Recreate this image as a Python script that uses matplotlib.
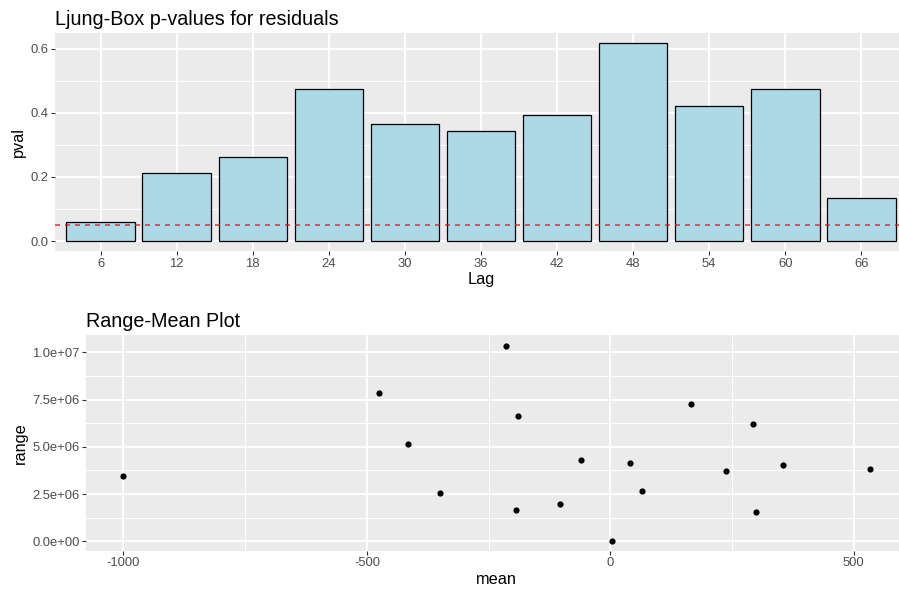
import numpy as np
import matplotlib
matplotlib.use('Agg')
import matplotlib.pyplot as plt

# Ljung-Box p-values
lags = [6, 12, 18, 24, 30, 36, 42, 48, 54, 60, 66]
pvals = [0.060, 0.211, 0.262, 0.474, 0.365, 0.344, 0.393, 0.618, 0.421, 0.474, 0.134]
pval_ticks = [0.0, 0.2, 0.4, 0.6]
pval_ticklabels = ['0.0', '0.2', '0.4', '0.6']
cutoff = 0.05

# Range-mean points
means = [-1000, -476, -415, -349, -214, -189, -194, -103, -60, 4,
         40, 65, 165, 238, 294, 299, 355, 534]
ranges = [3.46e6, 7.83e6, 5.15e6, 2.54e6, 1.033e7, 6.61e6, 1.66e6, 1.96e6, 4.29e6, 0.0,
          4.16e6, 2.66e6, 7.25e6, 3.70e6, 6.19e6, 1.55e6, 4.05e6, 3.81e6]
mean_ticks = [-1000, -500, 0, 500]
range_ticks = [0, 2.5e6, 5.0e6, 7.5e6, 1.0e7]
range_ticklabels = ['0.0e+00', '2.5e+06', '5.0e+06', '7.5e+06', '1.0e+07']

plt.rcParams['font.family'] = ['Liberation Sans', 'DejaVu Sans']

W, H = 899, 594
fig = plt.figure(figsize=(W / 100, H / 100), dpi=100)


def gg_style(ax, xminor, yminor):
    ax.set_facecolor('#EBEBEB')
    for s in ax.spines.values():
        s.set_visible(False)
    ax.set_axisbelow(True)
    ax.grid(True, which='major', color='white', linewidth=1.35)
    if xminor is not None:
        ax.set_xticks(xminor, minor=True)
    if yminor is not None:
        ax.set_yticks(yminor, minor=True)
    ax.grid(True, which='minor', color='white', linewidth=0.7)
    ax.tick_params(which='minor', length=0)
    ax.tick_params(which='major', length=2.7, width=0.8, color='#333333',
                   labelcolor='#4D4D4D', labelsize=9.4, pad=2)


# top panel
ax1 = fig.add_axes([55 / W, 1 - 251 / H, 852 / W, 218 / H])
gg_style(ax1, None, [0.1, 0.3, 0.5])
ax1.bar(lags, pvals, width=5.4, color='#ADD8E6', edgecolor='black', linewidth=0.9, zorder=2)
ax1.axhline(cutoff, color='red', alpha=0.75, linewidth=1.2, linestyle=(0, (3, 3)), zorder=3)
ax1.set_xlim(lags[0] - 3.6, lags[-1] + 3.6)
ax1.set_ylim(-0.031, 0.649)
ax1.set_xticks(lags)
ax1.set_yticks(pval_ticks)
ax1.set_yticklabels(pval_ticklabels)
ax1.set_xlabel('Lag', fontsize=11.7, labelpad=2)
ax1.set_ylabel('pval', fontsize=11.7, labelpad=3)
ax1.set_title('Ljung-Box p-values for residuals', loc='left', fontsize=14.2, pad=6)

# bottom panel
ax2 = fig.add_axes([86 / W, 1 - 550.7 / H, 821.7 / W, 215.7 / H])
gg_style(ax2, [-750, -250, 250], [1.25e6, 3.75e6, 6.25e6, 8.75e6])
ax2.scatter(means, ranges, s=20, color='black', zorder=3, linewidths=0)
ax2.set_xlim(-1077, 611)
ax2.set_ylim(-0.05e7, 1.0915e7)
ax2.set_xticks(mean_ticks)
ax2.set_xticklabels([str(t) for t in mean_ticks])
ax2.set_yticks(range_ticks)
ax2.set_yticklabels(range_ticklabels)
ax2.set_xlabel('mean', fontsize=11.7, labelpad=2)
ax2.set_ylabel('range', fontsize=11.7, labelpad=3)
ax2.set_title('Range-Mean Plot', loc='left', fontsize=14.2, pad=6)

fig.savefig('out.png', dpi=100)
